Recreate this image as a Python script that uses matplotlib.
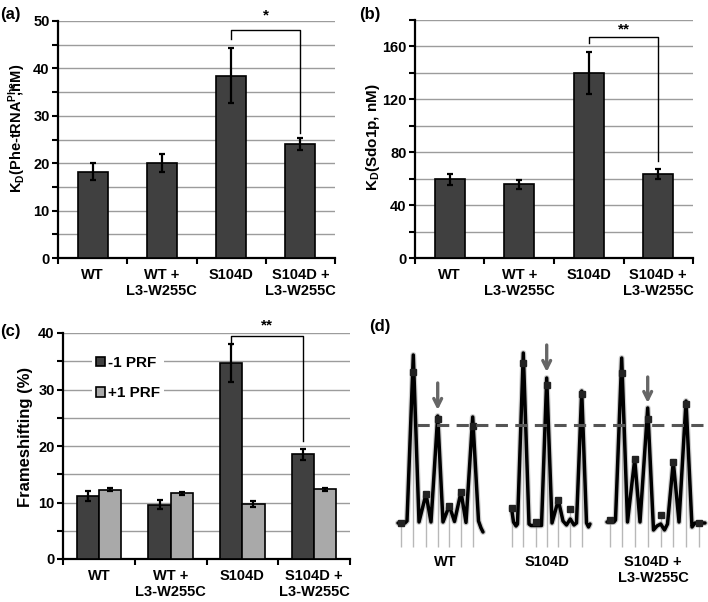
import matplotlib
matplotlib.use('Agg')
import matplotlib.pyplot as plt
from matplotlib.patches import Patch
from matplotlib import font_manager
import numpy as np

plt.rcParams['font.family'] = ['Liberation Sans', 'DejaVu Sans']
plt.rcParams['font.weight'] = 'bold'
plt.rcParams['mathtext.fontset'] = 'custom'
plt.rcParams['mathtext.rm'] = 'Liberation Sans:bold'
plt.rcParams['mathtext.it'] = 'Liberation Sans:bold'
plt.rcParams['mathtext.bf'] = 'Liberation Sans:bold'
plt.rcParams['mathtext.default'] = 'bf'

# ---------------- data ----------------
categories = ['WT', 'WT +\nL3-W255C', 'S104D', 'S104D +\nL3-W255C']

kd_phe = [18.2, 20.1, 38.4, 24.0]
kd_phe_err = [1.8, 1.9, 5.8, 1.3]

kd_sdo = [59.5, 55.8, 140.0, 63.5]
kd_sdo_err = [4.0, 3.5, 16.0, 3.6]

prf_minus1 = [11.1, 9.6, 34.7, 18.5]
prf_minus1_err = [0.9, 0.8, 3.3, 1.0]
prf_plus1 = [12.3, 11.6, 9.7, 12.35]
prf_plus1_err = [0.2, 0.3, 0.5, 0.3]

# panel (d): traces (scan position, intensity above baseline)
wt_x = [398, 405, 407, 413.3, 419, 426, 431, 437.7, 443, 449.3, 454.5, 461, 466, 472.7, 478.5, 481, 483]
wt_y = [1, 1, 3, 169, 2, 30, 2, 108, 2, 18.3, 2.5, 32, 1.5, 107, 3, -4, -8]
wt_peak_x = [401, 413.3, 426, 437.7, 449.3, 461, 472.7]
wt_peak_y = [1.3, 151.7, 30, 104.7, 18.3, 32, 98]

s_x = [511.5, 513.5, 516, 517.5, 523.3, 529, 531, 541.5, 546.7, 552, 558.3, 563, 566.5, 570.3, 574, 576.5, 581.7, 586.5, 588.5, 590]
s_y = [16, 2, -2, 0, 171, 0, -1.5, -1.5, 146, 1, 24, 3, -1, 5, -1, 1, 133, 1, -3, 0]
s_peak_x = [512.3, 523.3, 535.7, 546.7, 558.3, 570.3, 581.7]
s_peak_y = [16, 160.7, 2.3, 139, 24, 14.7, 130]

sl_x = [607, 614, 615.5, 621.7, 627.5, 634.7, 640, 647.7, 653.5, 657, 660.7, 664.5, 667.5, 673.3, 679, 686, 692, 695, 705]
sl_y = [2, 2, 4, 166, 2, 64.7, 2, 116, -6, -2, 0, -6, 0, 62.3, 2, 123, -3, 1, 1]
sl_peak_x = [610, 621.7, 634.7, 647.7, 660.7, 673.3, 686, 699]
sl_peak_y = [4, 150.7, 64.7, 105, 9, 62.3, 119.7, 1.3]

trace_labels = ['WT', 'S104D', 'S104D +\nL3-W255C']
trace_label_x = [445, 547, 653]
arrow_x = [437.7, 546.7, 647.7]
arrow_top = [141, 179, 147]
arrow_bottom = [114, 152, 121]
threshold = 99

DARK = '#404040'
LIGHT = '#a9a9a9'
GRID = '#9c9c9c'

_names = {f.name for f in font_manager.fontManager.ttflist}
NARROW = 'Liberation Sans Narrow' if 'Liberation Sans Narrow' in _names else 'Liberation Sans'

W, H = 708, 602
fig = plt.figure(figsize=(W / 100, H / 100), dpi=100)


def axes_px(x0, y_top, x1, y_bot):
    return fig.add_axes([x0 / W, 1 - y_bot / H, (x1 - x0) / W, (y_bot - y_top) / H])


def style(ax, ymax, minor_step, major_step):
    ax.set_xlim(-0.5, 3.5)
    ax.set_ylim(0, ymax)
    for s in ['top', 'right']:
        ax.spines[s].set_visible(False)
    for s in ['left', 'bottom']:
        ax.spines[s].set_linewidth(1.6)
    ax.set_yticks(np.arange(0, ymax + 0.01, major_step))
    ax.set_yticks(np.arange(0, ymax + 0.01, minor_step), minor=True)
    ax.yaxis.grid(True, which='both', color=GRID, lw=1)
    ax.set_axisbelow(True)
    ax.set_xticks(np.arange(-0.5, 4, 1))
    ax.set_xticklabels([])
    ax.set_xticks(range(4), labels=categories, minor=True)
    ax.tick_params(axis='x', which='major', length=4, width=1.5, direction='out')
    ax.tick_params(axis='x', which='minor', length=0, pad=7, labelsize=10.5)
    ax.tick_params(axis='y', which='both', length=4, width=1.5, direction='out', labelsize=10.5, pad=2)
    for lab in ax.get_xticklabels(minor=True) + ax.get_yticklabels():
        lab.set_fontweight('bold')


def bracket(ax, x1, x2, ytop, y1, y2, text, ty):
    ax.plot([x1, x1, x2, x2], [y1, ytop, ytop, y2], color='black', lw=1, clip_on=False)
    ax.text((x1 + x2) / 2, ty, text, ha='center', va='center', fontsize=11,
            fontweight='bold', clip_on=False)


ebkw = dict(ecolor='black', elinewidth=1.6, capsize=2.5, capthick=1.6)

# ---------------- (a) ----------------
ax_a = axes_px(58, 21, 335, 258)
style(ax_a, 50, 5, 10)
ax_a.bar(range(4), kd_phe, width=0.43, color=DARK, edgecolor='black', lw=1.2,
         yerr=kd_phe_err, error_kw=ebkw, zorder=3)
bracket(ax_a, 2, 3, 48.2, 46.1, 26.3, '*', 51.2)
ax_a.set_ylabel(r'K$_D$(Phe-tRNA$^{Phe}\!\!\!\!\!\!$,nM)', fontsize=10.5,
                fontweight='bold', family=[NARROW, 'Liberation Sans'])
ax_a.yaxis.set_label_coords(-0.112, 0.546)
fig.text(10 / W, 1 - 15 / H, '(a)', ha='center', va='center', fontsize=12, fontweight='bold')

# ---------------- (b) ----------------
ax_b = axes_px(415, 20, 693, 258)
style(ax_b, 180, 20, 40)
ax_b.bar(range(4), kd_sdo, width=0.43, color=DARK, edgecolor='black', lw=1.2,
         yerr=kd_sdo_err, error_kw=ebkw, zorder=3)
bracket(ax_b, 2, 3, 166.8, 162.5, 73.3, '**', 172.5)
ax_b.set_ylabel(r'K$_D$(Sdo1p, nM)', fontsize=11, fontweight='bold')
ax_b.yaxis.set_label_coords(-0.118, 0.506)
fig.text(370 / W, 1 - 14 / H, '(b)', ha='center', va='center', fontsize=12, fontweight='bold')

# ---------------- (c) ----------------
ax_c = axes_px(63, 333, 350, 559)
style(ax_c, 40, 5, 10)
x = np.arange(4)
bw = 0.31
ax_c.bar(x - bw / 2, prf_minus1, width=bw, color=DARK, edgecolor='black', lw=1.2,
         yerr=prf_minus1_err, error_kw=ebkw, zorder=3)
ax_c.bar(x + bw / 2, prf_plus1, width=bw, color=LIGHT, edgecolor='black', lw=1.2,
         yerr=prf_plus1_err, error_kw=ebkw, zorder=3)
bracket(ax_c, 2 - bw / 2, 3 - bw / 2, 39.4, 37.9, 20.8, '**', 41.3)
ax_c.set_ylabel('Frameshifting (%)', fontsize=12, fontweight='bold')
ax_c.yaxis.set_label_coords(-0.105, 0.538)
handles = [Patch(facecolor=DARK, edgecolor='black', lw=1.2),
           Patch(facecolor=LIGHT, edgecolor='black', lw=1.2)]
leg = ax_c.legend(handles, ['-1 PRF', '+1 PRF'], loc='upper left',
                  bbox_to_anchor=(0.1, 0.915), frameon=True, facecolor='white',
                  edgecolor='none', framealpha=1, fancybox=False,
                  handlelength=0.6, handleheight=0.6, handletextpad=0.2,
                  labelspacing=1.05, borderpad=0.25, borderaxespad=0,
                  prop={'size': 11, 'weight': 'bold'})
leg.set_zorder(2.5)
fig.text(10 / W, 1 - 332 / H, '(c)', ha='center', va='center', fontsize=12, fontweight='bold')

# ---------------- (d) ----------------
ax_d = fig.add_axes([360 / W, 0, 348 / W, 302 / H])
ax_d.set_xlim(360, 708)
ax_d.set_ylim(-78, 224)
ax_d.axis('off')
base_bottom = -23
for px, py in [(wt_peak_x, wt_peak_y), (s_peak_x, s_peak_y), (sl_peak_x, sl_peak_y)]:
    ax_d.vlines(px, base_bottom, py, color='#b8b8b8', lw=1, zorder=1)
for tx, ty in [(wt_x, wt_y), (s_x, s_y), (sl_x, sl_y)]:
    ax_d.plot(tx, ty, color='#aaaaaa', lw=4.2, solid_joinstyle='round',
              solid_capstyle='round', zorder=1.8, alpha=0.6)
    ax_d.plot(tx, ty, color='black', lw=2.5, solid_joinstyle='round',
              solid_capstyle='round', zorder=2)
for px, py in [(wt_peak_x, wt_peak_y), (s_peak_x, s_peak_y), (sl_peak_x, sl_peak_y)]:
    ax_d.plot(px, py, ls='none', marker='s', ms=4.3, color='#222222', zorder=3)
ax_d.plot([417, 704], [threshold, threshold], color='#555555', lw=2.2,
          dashes=(4, 2.4), zorder=4)
for axx, at, ab in zip(arrow_x, arrow_top, arrow_bottom):
    ax_d.annotate('', xy=(axx, ab), xytext=(axx, at),
                  arrowprops=dict(arrowstyle='->', color='#666666', lw=2.4,
                                  mutation_scale=14, shrinkA=0, shrinkB=0), zorder=4)
for lab, lx in zip(trace_labels, trace_label_x):
    ax_d.text(lx, -31, lab, ha='center', va='top', fontsize=10.5, fontweight='bold',
              linespacing=1.15)
fig.text(380 / W, 1 - 327 / H, '(d)', ha='center', va='center', fontsize=12, fontweight='bold')

fig.savefig('out.png', dpi=100, facecolor='white')
